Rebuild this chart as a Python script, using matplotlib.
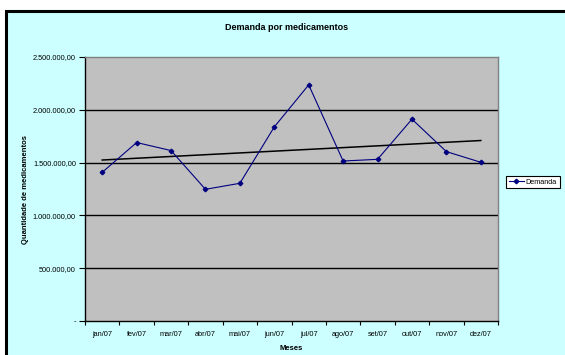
import matplotlib
matplotlib.use("Agg")
import matplotlib.pyplot as plt
from matplotlib.patches import Rectangle
from matplotlib.lines import Line2D
import numpy as np

plt.rcParams['font.family'] = ['Liberation Sans', 'DejaVu Sans']

meses = ['jan/07', 'fev/07', 'mar/07', 'abr/07', 'mai/07', 'jun/07',
         'jul/07', 'ago/07', 'set/07', 'out/07', 'nov/07', 'dez/07']
demanda = [1408000, 1690000, 1614000, 1247000, 1304000, 1838000,
           2236000, 1515000, 1531000, 1911000, 1604000, 1503000]
y_ticks = [0, 500000, 1000000, 1500000, 2000000, 2500000]


def fmt_br(v):
    if v == 0:
        return '-'
    s = f"{v:,.2f}"
    return s.replace(',', 'X').replace('.', ',').replace('X', '.')


W, H = 565, 355
fig = plt.figure(figsize=(W / 100, H / 100), dpi=100, facecolor='#CCFFFF')

# white margin above and left of the chart frame
x0, y0 = 6 / W, 1 - 11 / H
fig.patches.append(Rectangle((0, y0), 1, 1 - y0, transform=fig.transFigure,
                             facecolor='white', edgecolor='none', zorder=-5))
fig.patches.append(Rectangle((0, 0), x0, 1, transform=fig.transFigure,
                             facecolor='white', edgecolor='none', zorder=-5))
fig.lines.append(Line2D([x0, x0, 1.01], [-0.01, y0, y0], transform=fig.transFigure,
                        color='black', linewidth=2.2, solid_joinstyle='miter',
                        solid_capstyle='butt'))

ax = fig.add_axes([85 / W, 1 - 321 / H, (498 - 85) / W, (321 - 57) / H])
ax.set_facecolor('#C0C0C0')

x = np.arange(1, len(meses) + 1)
ax.plot(x, demanda, color='#000080', linewidth=0.8, marker='D', markersize=2.3,
        label='Demanda', zorder=3)

# linear trend line, like the Excel one
coef = np.polyfit(x, demanda, 1)
ax.plot(x, np.polyval(coef, x), color='black', linewidth=1.1, zorder=2)

ax.set_xlim(0.5, 12.5)
ax.set_ylim(0, 2500000)
ax.set_yticks(y_ticks)
ax.set_yticklabels([fmt_br(v) for v in y_ticks])
for v in y_ticks[1:-1]:
    ax.axhline(v, color='black', linewidth=1, zorder=1)

ax.set_xticks(np.arange(0.5, 12.6, 1))
ax.set_xticklabels([])
ax.set_xticks(x, minor=True)
ax.set_xticklabels(meses, minor=True)
ax.tick_params(axis='x', which='minor', length=0, pad=7, labelsize=5.3)
ax.tick_params(axis='x', which='major', length=3, direction='out', width=0.8)
ax.tick_params(axis='y', length=4, direction='out', width=0.8, labelsize=5.3, pad=2.5)

for side in ['left', 'bottom']:
    ax.spines[side].set_color('black')
    ax.spines[side].set_linewidth(1)
for side in ['top', 'right']:
    ax.spines[side].set_color('#808080')
    ax.spines[side].set_linewidth(1)

ax.set_xlabel('Meses', fontsize=5.5, fontweight='bold', labelpad=5)
ax.set_ylabel('Quantidade de medicamentos', fontsize=5.5, fontweight='bold', labelpad=3)
fig.text(287 / W, 1 - 28 / H, 'Demanda por medicamentos', fontsize=6.5,
         fontweight='bold', ha='center', va='center')

leg = fig.legend(loc='upper left', bbox_to_anchor=(506 / W, 1 - 176 / H),
                 fontsize=5.2, frameon=True, fancybox=False, framealpha=1,
                 edgecolor='black', borderpad=0.35, handlelength=2.2,
                 handletextpad=0.2, borderaxespad=0)
leg.get_frame().set_linewidth(0.8)

fig.savefig('out.png', dpi=100, facecolor=fig.get_facecolor())
